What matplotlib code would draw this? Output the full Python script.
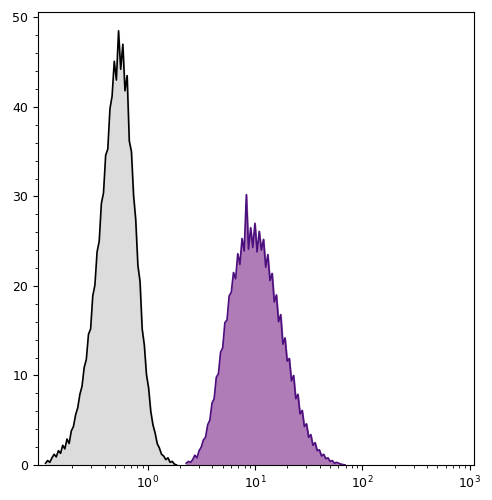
import matplotlib
matplotlib.use("Agg")
import matplotlib.pyplot as plt
import numpy as np

black_log = [-0.95,-0.93,-0.91,-0.89,-0.87,-0.85,-0.83,-0.81,-0.79,-0.77,-0.75,-0.73,-0.71,-0.69,-0.67,-0.65,-0.63,-0.61,-0.59,-0.57,-0.55,-0.53,-0.51,-0.49,-0.47,-0.45,-0.43,-0.41,-0.39,-0.37,-0.35,-0.33,-0.31,-0.29,-0.27,-0.25,-0.23,-0.21,-0.19,-0.17,-0.15,-0.13,-0.11,-0.09,-0.07,-0.05,-0.03,-0.01,0.01,0.03,0.05,0.07,0.09,0.11,0.13,0.15,0.17,0.19,0.21,0.23,0.25,0.27]
black_val = [0.2,0.5,0.3,0.8,1.2,0.9,1.6,1.3,2.2,1.8,2.9,2.4,3.8,4.3,5.6,6.4,7.9,8.8,10.9,11.8,14.6,15.2,18.9,20.1,23.8,25.0,29.2,30.4,34.6,35.3,39.8,41.2,45.1,43.0,48.5,44.2,47.0,41.8,43.5,36.2,35.0,30.1,27.4,22.3,20.5,15.2,13.4,10.1,8.6,6.0,4.5,3.6,2.4,1.9,1.2,1.0,0.6,0.8,0.3,0.4,0.1,0.0]

purple_log = [0.36,0.38,0.40,0.42,0.44,0.46,0.48,0.50,0.52,0.54,0.56,0.58,0.60,0.62,0.64,0.66,0.68,0.70,0.72,0.74,0.76,0.78,0.80,0.82,0.84,0.86,0.88,0.90,0.92,0.94,0.96,0.98,1.00,1.02,1.04,1.06,1.08,1.10,1.12,1.14,1.16,1.18,1.20,1.22,1.24,1.26,1.28,1.30,1.32,1.34,1.36,1.38,1.40,1.42,1.44,1.46,1.48,1.50,1.52,1.54,1.56,1.58,1.60,1.62,1.64,1.66,1.68,1.70,1.72,1.74,1.76,1.80,1.84]
purple_val = [0.2,0.4,0.3,0.6,1.1,0.8,1.6,2.0,2.8,3.1,4.5,5.0,6.9,7.4,9.8,10.2,12.6,13.1,15.9,16.2,18.9,19.3,21.5,20.8,23.6,22.4,25.3,23.9,30.2,24.1,26.5,24.3,27.0,23.8,26.1,24.0,25.2,22.1,23.5,20.6,21.4,18.2,19.0,16.0,16.8,13.5,14.2,11.6,11.9,9.4,10.0,7.4,7.9,5.7,6.1,4.3,4.6,3.1,3.4,2.2,2.5,1.6,1.7,1.0,1.2,0.7,0.8,0.4,0.5,0.2,0.3,0.1,0.0]

y_ticks = [0, 10, 20, 30, 40, 50]

fig = plt.figure(figsize=(4.92, 5.0), dpi=100)
ax = fig.add_axes([38/492, 35/500, 436/492, 453/500])

bx = 10 ** np.array(black_log)
px = 10 ** np.array(purple_log)
ax.fill_between(bx, black_val, color="#dcdcdc", zorder=1)
ax.plot(bx, black_val, color="black", lw=1.2, zorder=3)
ax.fill_between(px, purple_val, color="#b07cb8", zorder=2)
ax.plot(px, purple_val, color="#4b0f7e", lw=1.2, zorder=3)

ax.set_xscale("log")
ax.set_xlim(10 ** -1.02, 10 ** 3.04)
ax.set_ylim(0, 50.6)
ax.set_yticks(y_ticks)
ax.set_yticks(np.arange(0, 51, 2), minor=True)
ax.set_xticks([1, 10, 100, 1000])
ax.tick_params(labelsize=9)
for s in ax.spines.values():
    s.set_linewidth(0.8)
fig.savefig("out.png", dpi=100)
